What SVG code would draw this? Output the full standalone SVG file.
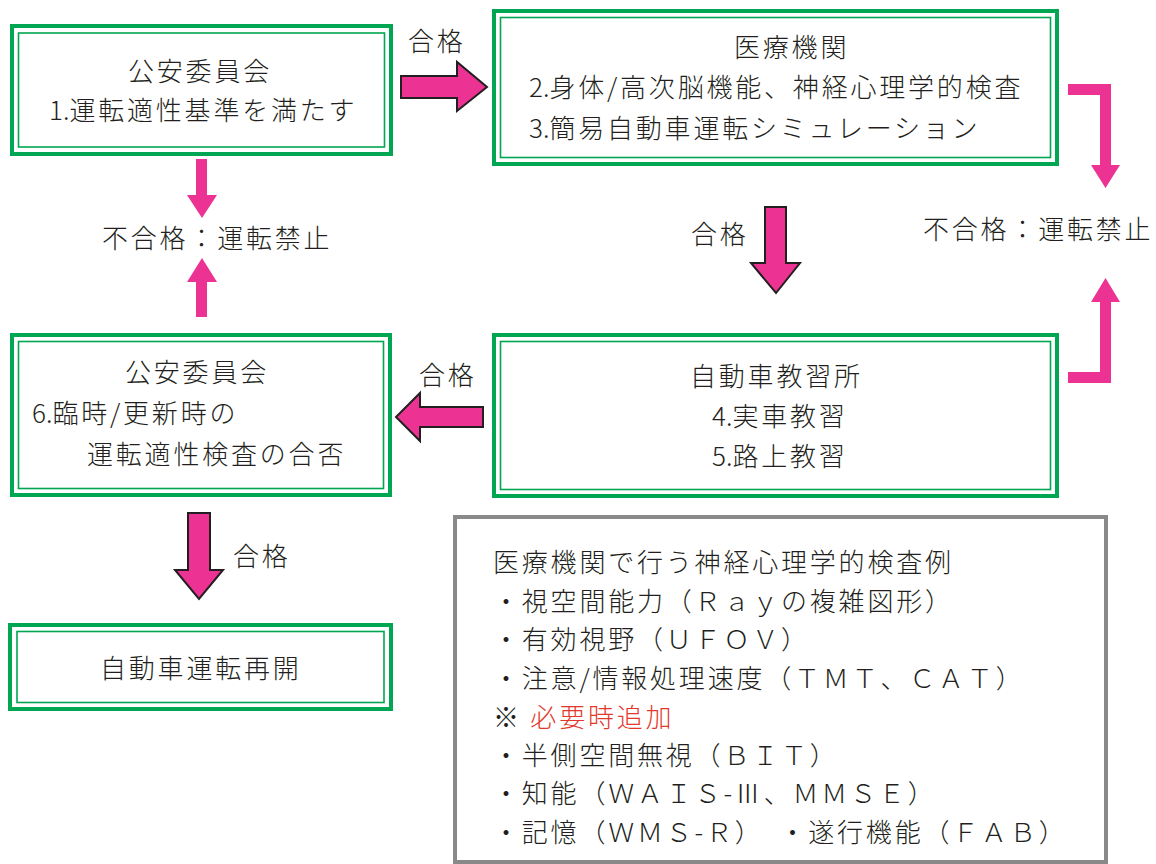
<svg xmlns="http://www.w3.org/2000/svg" width="1156" height="864" viewBox="0 0 1156 864">
<style>
text{font-family:"Noto Sans CJK JP","Noto Sans",sans-serif;font-size:26px;font-weight:300;letter-spacing:2.8px;fill:#231f20}
.n{letter-spacing:0}
.outer{fill:#fff;stroke:#00a651;stroke-width:4}
.inner{fill:none;stroke:#00a651;stroke-width:1.6}
.blk{fill:#ec3393;stroke:#231f20;stroke-width:2;stroke-linejoin:miter}
.thin{fill:#ec3393;stroke:none}
.red{fill:#e2382c}
</style>
<rect width="1156" height="864" fill="#fff"/>
<g id="connectors">
  <path class="blk" d="M401,76 H457 V62 L487,87 L457,111 V98 H401 Z"/>
  <path class="blk" d="M483,407 H420 V393 L396,417 L420,441 V427 H483 Z"/>
  <path class="blk" d="M765,207 H786 V263 H800 L776,293 L751,263 H765 Z"/>
  <path class="blk" d="M188,513 H210 V570 H223 L199,599 L175,570 H188 Z"/>
  <path class="thin" d="M196,159 H207 V195 H217 L202,218 L187,195 H196 Z"/>
  <path class="thin" d="M196,317 H207 V282 H217 L202,258 L187,282 H196 Z"/>
  <path class="thin" d="M1068,84 H1111 V165 H1120 L1105.5,188 L1091,165 H1100 V95 H1068 Z"/>
  <path class="thin" d="M1068,383 H1111 V302 H1120 L1105.5,278 L1091,302 H1100 V372 H1068 Z"/>
</g>
<g id="label-pass1"><text x="408" y="51">合格</text></g>
<g id="label-fail-left"><text x="102" y="248">不合格：運転禁止</text></g>
<g id="label-pass2"><text x="691" y="244">合格</text></g>
<g id="label-fail-right"><text x="923" y="239">不合格：運転禁止</text></g>
<g id="label-pass3"><text x="419" y="385">合格</text></g>
<g id="label-pass4"><text x="233" y="566">合格</text></g>
<g id="node-koan1">
  <rect class="outer" x="12" y="26" width="379" height="128"/>
  <rect class="inner" x="18.5" y="33" width="366" height="114"/>
  <text x="128" y="81">公安委員会</text>
  <text x="49" y="120"><tspan class="n">1.</tspan>運転適性基準を満たす</text>
</g>
<g id="node-iryo">
  <rect class="outer" x="494" y="11" width="563" height="153"/>
  <rect class="inner" x="500.5" y="17.5" width="550" height="140"/>
  <text x="734" y="57">医療機関</text>
  <text x="529" y="97"><tspan class="n">2.</tspan>身体/高次脳機能、神経心理学的検査</text>
  <text x="529" y="138"><tspan class="n">3.</tspan>簡易自動車運転シミュレーション</text>
</g>
<g id="node-koan2">
  <rect class="outer" x="12" y="335" width="378" height="160"/>
  <rect class="inner" x="18.5" y="341.5" width="365" height="147"/>
  <text x="125" y="382">公安委員会</text>
  <text x="32" y="423"><tspan class="n">6.</tspan>臨時/更新時の</text>
  <text x="87" y="464">運転適性検査の合否</text>
</g>
<g id="node-kyoshujo">
  <rect class="outer" x="494" y="335" width="563" height="161"/>
  <rect class="inner" x="500.5" y="341.5" width="550" height="148"/>
  <text x="690" y="386">自動車教習所</text>
  <text x="712" y="426"><tspan class="n">4.</tspan>実車教習</text>
  <text x="712" y="466"><tspan class="n">5.</tspan>路上教習</text>
</g>
<g id="node-saikai">
  <rect class="outer" x="10" y="625" width="381" height="84"/>
  <rect class="inner" x="17" y="631.5" width="367" height="71"/>
  <text x="100" y="678">自動車運転再開</text>
</g>
<g id="node-examples">
  <rect x="455" y="517" width="651" height="345" fill="#fff" stroke="#898989" stroke-width="4"/>
  <text x="493" y="572">医療機関で行う神経心理学的検査例</text>
  <text x="493" y="611">・視空間能力（Ｒａｙの複雑図形）</text>
  <text x="493" y="649">・有効視野（ＵＦＯＶ）</text>
  <text x="493" y="688">・注意/情報処理速度（ＴＭＴ、ＣＡＴ）</text>
  <text x="493" y="727">※ <tspan class="red">必要時追加</tspan></text>
  <text x="493" y="765">・半側空間無視（ＢＩＴ）</text>
  <text x="493" y="803">・知能（ＷＡＩＳ-Ⅲ、ＭＭＳＥ）</text>
  <text x="493" y="842">・記憶（ＷＭＳ-Ｒ）　・遂行機能（ＦＡＢ）</text>
</g>
</svg>
